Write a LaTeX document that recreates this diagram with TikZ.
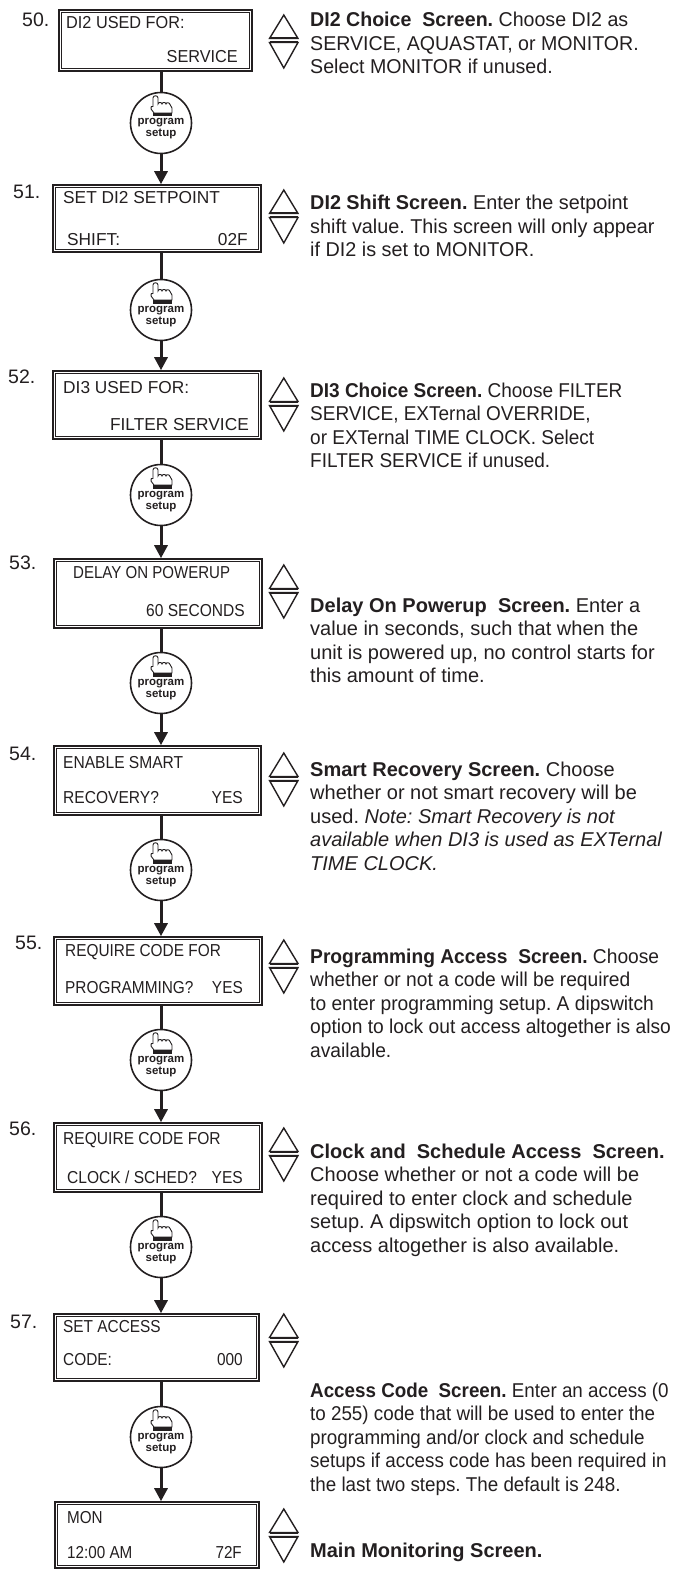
\documentclass[tikz,border=0pt]{standalone}
\usepackage{fontspec}
\setmainfont{Liberation Sans}
\usetikzlibrary{arrows.meta}
\definecolor{ink}{RGB}{35,31,32}
\frenchspacing
\tikzset{
  scrbox/.style={draw=ink, line width=1.6pt, inner sep=0pt},
  scrin/.style={draw=ink, line width=0.9pt},
  scrW/.style={inner sep=0pt, anchor=base west, font=\fontsize{17.3}{20}\selectfont, text=ink},
  scrE/.style={inner sep=0pt, anchor=base east, font=\fontsize{17.3}{20}\selectfont, text=ink},
  numtxt/.style={inner sep=0pt, anchor=base west, font=\fontsize{19.5}{22}\selectfont, text=ink},
  desc/.style={inner sep=0pt, anchor=base west, font=\fontsize{20}{23.5}\selectfont, text=ink},
  btn/.style={circle, draw=ink, line width=1.6pt, minimum size=61pt, inner sep=0pt, fill=white},
  btntxt/.style={inner sep=0pt, anchor=base, font=\fontsize{11.5}{12}\selectfont\bfseries, text=ink},
  conn/.style={draw=ink, line width=3pt},
  arr/.style={conn, -{Triangle[width=13pt,length=13pt]}},
  sym/.style={draw=ink, line width=1.4pt, line join=miter},
  symbar/.style={draw=ink, line width=2pt},
}
\newcommand\hs[2]{\scalebox{#1}[1]{#2}}
\newcommand\scr[5]{%
  \node[scrbox, minimum width={#4-#2}, minimum height={#5-#3}] (#1) at ({(#2+#4)/2},{(#3+#5)/2}) {};
  \draw[scrin] ([shift={(3.5,3.5)}]#1.north west) rectangle ([shift={(-3.5,-3.5)}]#1.south east);
}
\newcommand\btnat[2]{%
  \node[btn] (#1) at (161,#2) {};
  \begin{scope}[shift={(161,#2)}]
    \draw[ink, line width=0.9pt, fill=white] (-7,-10) -- (-10,-14) .. controls (-11,-16) and (-9,-17.5) .. (-8,-16.5) -- (-8,-25) .. controls (-8,-28) and (-3,-28) .. (-3,-25) -- (-3,-19) .. controls (-3,-21) and (1,-21) .. (1,-19) .. controls (1,-21) and (5,-21) .. (5,-19) .. controls (5,-21) and (9,-20.5) .. (9,-18.5) -- (11,-15) -- (11,-10) -- cycle;
    \fill[ink] (-8,-10) rectangle (11,-6.5);
  \end{scope}
  \node[btntxt] (#1-p) at (161,{#2+2}) {program};
  \node[btntxt] (#1-s) at (161,{#2+14}) {setup};
}
\newcommand\updn[1]{%
  \draw[sym] (283.8,#1) -- (298,{#1+23.5}) -- (269.5,{#1+23.5}) -- cycle;
  \draw[sym] (269.5,{#1+27.5}) -- (298,{#1+27.5}) -- (283.8,{#1+53}) -- cycle;
  \draw[symbar] (269.5,{#1+23.5}) -- (298,{#1+23.5});
  \draw[symbar] (269.5,{#1+27.5}) -- (298,{#1+27.5});
}
\newcommand\desc[4]{%
  \foreach \t [count=\i] in {#4} {\node[desc] (#1-\i) at (310,{#2+23.5*(\i-1)}) {\hs{#3}{\t}};}
}
\begin{document}
\begin{tikzpicture}[x=1pt,y=-1pt]
\useasboundingbox (0,0) rectangle (675,1570);

% screens
\scr{s50}{59}{10}{252}{71}
\scr{s51}{53}{185}{261}{252}
\scr{s52}{53}{371}{261}{439}
\scr{s53}{54}{559}{262}{628}
\scr{s54}{54}{746}{261}{815}
\scr{s55}{54}{937}{262}{1005}
\scr{s56}{54}{1123}{262}{1192}
\scr{s57}{54}{1314}{259}{1381}
\scr{sM}{55}{1502}{259}{1568}

% screen texts
\node[scrW] (t50a) at (66,29) {\hs{0.94}{DI2 USED FOR:}};
\node[scrE] (t50b) at (238,63) {\hs{0.94}{SERVICE}};
\node[scrW] (t51a) at (63,204) {SET DI2 SETPOINT};
\node[scrW] (t51b) at (67,245) {SHIFT:};
\node[scrE] (t51c) at (248,245) {02F};
\node[scrW] (t52a) at (63,393) {DI3 USED FOR:};
\node[scrE] (t52b) at (249,430) {FILTER SERVICE};
\node[scrW] (t53a) at (73,578) {\hs{0.87}{DELAY ON POWERUP}};
\node[scrE] (t53b) at (245,616) {\hs{0.9}{60 SECONDS}};
\node[scrW] (t54a) at (63,768) {\hs{0.9}{ENABLE SMART}};
\node[scrW] (t54b) at (63,803) {\hs{0.9}{RECOVERY?}};
\node[scrE] (t54c) at (243,803) {\hs{0.9}{YES}};
\node[scrW] (t55a) at (65,956) {\hs{0.89}{REQUIRE CODE FOR}};
\node[scrW] (t55b) at (65,993) {\hs{0.89}{PROGRAMMING?}};
\node[scrE] (t55c) at (243,993) {\hs{0.89}{YES}};
\node[scrW] (t56a) at (63,1144) {\hs{0.9}{REQUIRE CODE FOR}};
\node[scrW] (t56b) at (67,1183) {\hs{0.9}{CLOCK / SCHED?}};
\node[scrE] (t56c) at (243,1183) {\hs{0.9}{YES}};
\node[scrW] (t57a) at (63,1332) {\hs{0.89}{SET ACCESS}};
\node[scrW] (t57b) at (63,1365) {\hs{0.89}{CODE:}};
\node[scrE] (t57c) at (243,1365) {\hs{0.89}{000}};
\node[scrW] (tMa) at (67,1523) {\hs{0.88}{MON}};
\node[scrW] (tMb) at (67,1558) {\hs{0.88}{12:00 AM}};
\node[scrE] (tMc) at (242,1558) {\hs{0.88}{72F}};

% step numbers
\node[numtxt] (n50) at (22,27) {50.};
\node[numtxt] (n51) at (13,199) {51.};
\node[numtxt] (n52) at (8,383) {52.};
\node[numtxt] (n53) at (9,569) {53.};
\node[numtxt] (n54) at (9,760) {54.};
\node[numtxt] (n55) at (15,949) {55.};
\node[numtxt] (n56) at (9,1135) {56.};
\node[numtxt] (n57) at (10,1328) {57.};

% buttons
\btnat{b50}{123}
\btnat{b51}{310}
\btnat{b52}{495}
\btnat{b53}{683}
\btnat{b54}{870}
\btnat{b55}{1060}
\btnat{b56}{1247}
\btnat{b57}{1437}

% connectors
\draw[conn] (b50 |- s50.south) -- (b50.north);
\draw[arr] (b50.south) -- (b50 |- s51.north);
\draw[conn] (b51 |- s51.south) -- (b51.north);
\draw[arr] (b51.south) -- (b51 |- s52.north);
\draw[conn] (b52 |- s52.south) -- (b52.north);
\draw[arr] (b52.south) -- (b52 |- s53.north);
\draw[conn] (b53 |- s53.south) -- (b53.north);
\draw[arr] (b53.south) -- (b53 |- s54.north);
\draw[conn] (b54 |- s54.south) -- (b54.north);
\draw[arr] (b54.south) -- (b54 |- s55.north);
\draw[conn] (b55 |- s55.south) -- (b55.north);
\draw[arr] (b55.south) -- (b55 |- s56.north);
\draw[conn] (b56 |- s56.south) -- (b56.north);
\draw[arr] (b56.south) -- (b56 |- s57.north);
\draw[conn] (b57 |- s57.south) -- (b57.north);
\draw[arr] (b57.south) -- (b57 |- sM.north);

% up/down symbols
\updn{15}
\updn{190}
\updn{378}
\updn{565}
\updn{753}
\updn{940}
\updn{1128}
\updn{1314}
\updn{1509}

% descriptions
\desc{d50}{27}{0.98}{{\textbf{DI2 Choice\ \ Screen.} Choose DI2 as},{SERVICE, AQUASTAT, or MONITOR.},{Select MONITOR if unused.}}
\desc{d51}{210}{0.99}{{\textbf{DI2 Shift Screen.} Enter the setpoint},{shift value. This screen will only appear},{if DI2 is set to MONITOR.}}
\desc{d52}{397}{0.95}{{\textbf{DI3 Choice Screen.} Choose FILTER},{SERVICE, EXTernal OVERRIDE,},{or EXTernal TIME CLOCK. Select},{FILTER SERVICE if unused.}}
\desc{d53}{612}{1}{{\textbf{Delay On Powerup\ \ Screen.} Enter a},{value in seconds, such that when the},{unit is powered up, no control starts for},{this amount of time.}}
\desc{d54}{776}{1}{{\textbf{Smart Recovery Screen.} Choose},{whether or not smart recovery will be},{used. \textit{Note: Smart Recovery is not}},{\textit{available when DI3 is used as EXTernal}},{\textit{TIME CLOCK.}}}
\desc{d55}{963}{0.96}{{\textbf{Programming Access\ \ Screen.} Choose},{whether or not a code will be required},{to enter programming setup. A dipswitch},{option to lock out access altogether is also},{available.}}
\desc{d56}{1158}{1}{{\textbf{Clock and\ \ Schedule Access\ \ Screen.}},{Choose whether or not a code will be},{required to enter clock and schedule},{setup. A dipswitch option to lock out},{access altogether is also available.}}
\desc{d57}{1397}{0.94}{{\textbf{Access Code\ \ Screen.} Enter an access (0},{to 255) code that will be used to enter the},{programming and/or clock and schedule},{setups if access code has been required in},{the last two steps. The default is 248.}}
\desc{dM}{1557}{1}{{\textbf{Main Monitoring Screen.}}}
\end{tikzpicture}
\end{document}
